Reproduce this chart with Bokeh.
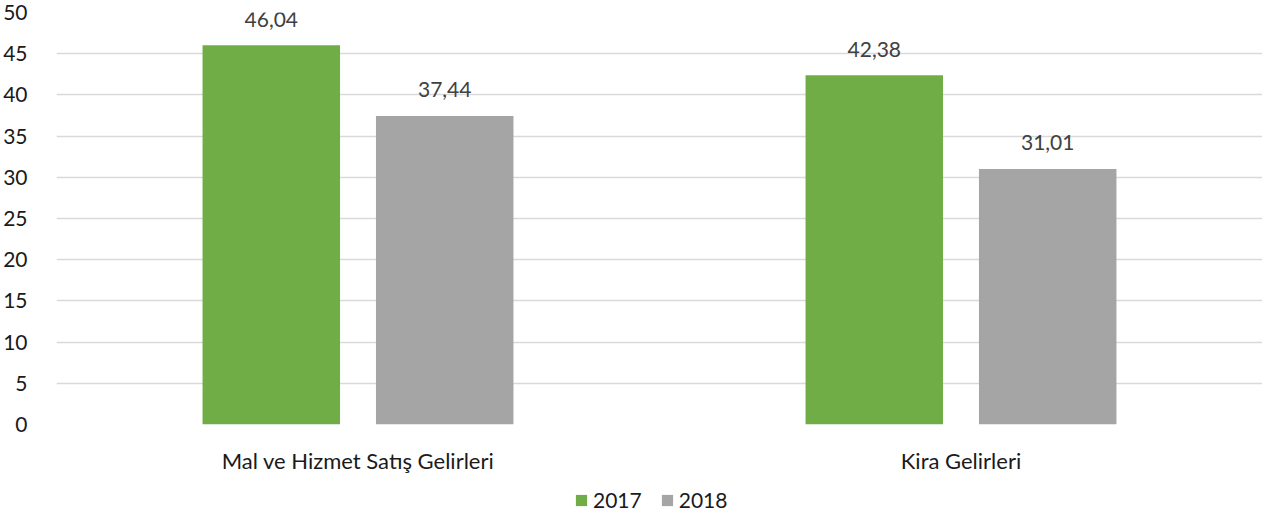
from bokeh.plotting import figure
from bokeh.layouts import column
from bokeh.models import ColumnDataSource, FactorRange, Legend, LegendItem, FixedTicker
from bokeh.transform import dodge
from bokeh.core.properties import value
from bokeh.embed import file_html
from bokeh.resources import INLINE

categories = ["Mal ve Hizmet Satış Gelirleri", "Kira Gelirleri"]
years = ["2017", "2018"]
values_2017 = [46.04, 42.38]
values_2018 = [37.44, 31.01]
y_ticks = [0, 5, 10, 15, 20, 25, 30, 35, 40, 45, 50]
colors = ["#70AD47", "#A5A5A5"]

FONT = "Lato"


def fmt(v):
    return f"{v:.2f}".replace(".", ",")


src = ColumnDataSource(dict(
    cat=categories,
    v17=values_2017,
    v18=values_2018,
    l17=[fmt(v) for v in values_2017],
    l18=[fmt(v) for v in values_2018],
))

p = figure(
    x_range=FactorRange(*categories),
    y_range=(0, 50),
    width=1262, height=484,
    output_backend="svg", toolbar_location=None,
    min_border_left=52, min_border_right=0,
    min_border_top=12, min_border_bottom=60,
)
p.outline_line_color = None
p.background_fill_color = "white"

off = 0.1438
bw = 0.228
r17 = p.vbar(x=dodge("cat", -off, range=p.x_range), top="v17", width=bw,
             source=src, fill_color=colors[0], line_color=None)
r18 = p.vbar(x=dodge("cat", off, range=p.x_range), top="v18", width=bw,
             source=src, fill_color=colors[1], line_color=None)

for col, lab, o in (("v17", "l17", -off), ("v18", "l18", off)):
    p.text(x=dodge("cat", o, range=p.x_range), y=col, text=lab, source=src,
           text_align="center", text_baseline="alphabetic", y_offset=-26,
           text_font=value(FONT), text_font_size="21px", text_color="#404040")

p.xgrid.grid_line_color = None
p.ygrid.ticker = FixedTicker(ticks=y_ticks)
p.ygrid.grid_line_color = "#D9D9D9"
p.ygrid.grid_line_width = 1.3

p.yaxis.ticker = FixedTicker(ticks=y_ticks)
for ax in (p.xaxis[0], p.yaxis[0]):
    ax.axis_line_color = None
    ax.major_tick_line_color = None
    ax.minor_tick_line_color = None
    ax.major_label_text_font = FONT
    ax.major_label_text_font_size = "21px"
    ax.major_label_text_color = "#1a1a1a"
p.xaxis.major_label_text_font_size = "22px"
p.yaxis.major_label_standoff = 23
p.xaxis.major_label_standoff = 16

# legend strip below the chart (its keys sit outside the strip's visible range)
lg = figure(width=1262, height=28, output_backend="svg", toolbar_location=None,
            min_border=0, x_range=(0, 1), y_range=(0, 1))
lg.outline_line_color = None
lg.xaxis.visible = False
lg.yaxis.visible = False
lg.grid.visible = False
k17 = lg.vbar(x=[5], bottom=[5], top=[6], width=0.1, fill_color=colors[0], line_color=None)
k18 = lg.vbar(x=[5], bottom=[5], top=[6], width=0.1, fill_color=colors[1], line_color=None)

legend = Legend(
    items=[LegendItem(label=years[0], renderers=[k17]),
           LegendItem(label=years[1], renderers=[k18])],
    orientation="horizontal", location=(518, 0),
    glyph_width=14, glyph_height=14, label_standoff=5, spacing=18,
    padding=0, margin=0, border_line_color=None, background_fill_alpha=0,
    label_text_font=FONT, label_text_font_size="21px", label_text_color="#1a1a1a",
)
lg.add_layout(legend)

open("out.html", "w").write(file_html(column(p, lg, spacing=0), INLINE))
